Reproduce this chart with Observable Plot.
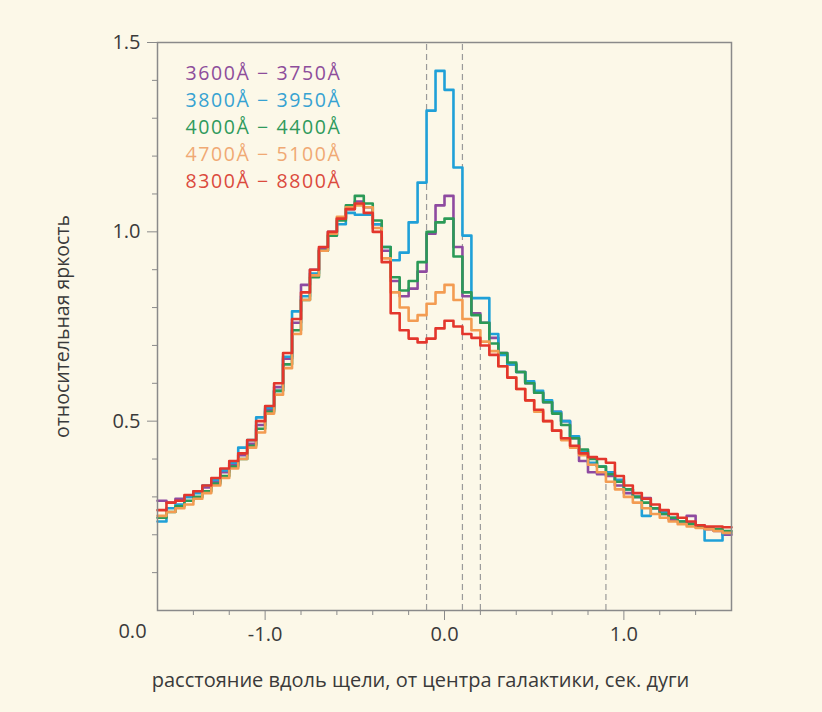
<!DOCTYPE html>
<html><head><meta charset="utf-8">
<script src="https://cdn.jsdelivr.net/npm/d3@7"></script>
<script src="https://cdn.jsdelivr.net/npm/@observablehq/plot@0.6"></script>
<style>
html,body{margin:0;padding:0;background:#fcf8e8;}
#chart{width:822px;height:712px;}
</style></head><body><div id="chart"></div>
<script>
// bins: left edge -1.6, width 0.05 arcsec, 64 bins
const binStart = -1.6, binWidth = 0.05, binEnd = 1.6;

const band3600 = [0.29,0.285,0.295,0.30,0.315,0.325,0.34,0.365,0.385,0.41,0.44,0.49,0.53,0.59,0.665,0.76,0.86,0.90,0.955,1.0,1.035,1.06,1.08,1.065,1.02,0.95,0.87,0.83,0.85,0.895,0.995,1.07,1.095,0.96,0.83,0.785,0.76,0.72,0.68,0.65,0.63,0.60,0.575,0.55,0.525,0.50,0.455,0.395,0.365,0.36,0.355,0.33,0.31,0.30,0.297,0.27,0.255,0.24,0.235,0.25,0.225,0.215,0.21,0.20];
const band3800 = [0.235,0.27,0.28,0.30,0.31,0.33,0.345,0.37,0.39,0.43,0.45,0.51,0.535,0.58,0.67,0.79,0.83,0.89,0.95,0.99,1.02,1.05,1.045,1.045,1.02,0.96,0.925,0.945,1.025,1.13,1.32,1.425,1.375,1.17,0.99,0.825,0.825,0.73,0.675,0.65,0.63,0.605,0.58,0.555,0.525,0.50,0.46,0.42,0.39,0.38,0.365,0.345,0.32,0.30,0.25,0.27,0.26,0.245,0.235,0.23,0.22,0.185,0.185,0.205];
const band4000 = [0.245,0.26,0.275,0.29,0.30,0.315,0.335,0.355,0.38,0.40,0.435,0.48,0.525,0.58,0.65,0.74,0.82,0.88,0.95,0.99,1.03,1.07,1.095,1.075,1.03,0.96,0.88,0.845,0.87,0.92,1.0,1.025,1.035,0.935,0.84,0.78,0.76,0.705,0.68,0.655,0.63,0.60,0.575,0.55,0.52,0.49,0.455,0.425,0.40,0.38,0.36,0.34,0.32,0.30,0.285,0.27,0.255,0.245,0.235,0.228,0.222,0.218,0.215,0.21];
const band4700 = [0.25,0.26,0.27,0.28,0.295,0.31,0.33,0.35,0.375,0.40,0.43,0.47,0.52,0.57,0.64,0.73,0.82,0.885,0.95,0.995,1.04,1.065,1.07,1.065,1.01,0.93,0.84,0.80,0.765,0.78,0.81,0.84,0.86,0.82,0.77,0.74,0.71,0.685,0.645,0.615,0.585,0.555,0.525,0.50,0.475,0.45,0.43,0.41,0.385,0.365,0.34,0.32,0.30,0.285,0.27,0.255,0.245,0.235,0.228,0.222,0.218,0.215,0.21,0.205];
const band8300 = [0.265,0.285,0.29,0.305,0.315,0.33,0.35,0.375,0.395,0.415,0.45,0.50,0.54,0.60,0.68,0.77,0.84,0.90,0.96,1.0,1.035,1.06,1.075,1.05,1.0,0.92,0.785,0.74,0.718,0.708,0.718,0.745,0.765,0.75,0.73,0.72,0.70,0.675,0.645,0.615,0.585,0.555,0.53,0.50,0.475,0.455,0.435,0.415,0.405,0.40,0.39,0.355,0.33,0.31,0.295,0.28,0.265,0.255,0.245,0.235,0.225,0.222,0.222,0.22];

const seriesNames = ["3600Å − 3750Å","3800Å − 3950Å","4000Å − 4400Å","4700Å − 5100Å","8300Å − 8800Å"];
const seriesValues = [band3600, band3800, band4000, band4700, band8300];
const lineColors = ["#8e4aa0","#1fa0d8","#2b9a57","#f39c52","#e3362c"];
const legendColors = ["#8d4d9b","#36a2d2","#2f9a5c","#f0a974","#db4a3d"];

const yMajorTicks = [0.5, 1.0, 1.5];
const yMinorTicks = [0.1,0.2,0.3,0.4,0.6,0.7,0.8,0.9,1.1,1.2,1.3,1.4];
const yZeroLabel = "0.0";
const xMajorTicks = [-1, 0, 1];
const xMinorTicks = [-1.4,-1.2,-0.8,-0.6,-0.4,-0.2,0.2,0.4,0.6,0.8,1.2,1.4];
const markerX = [-0.1, 0.1, 0.2, 0.9];
const markerTop = [1.5, 1.5, 0.7, 0.34];
const xTitle = "расстояние вдоль щели, от центра галактики, сек. дуги";
const yTitle = "относительная яркость";

function stepData(values) {
  const rows = values.map((v, i) => ({x: binStart + i * binWidth, v}));
  rows.push({x: binEnd, v: values[values.length - 1]});
  return rows;
}
const markers = markerX.map((x, i) => ({x, top: markerTop[i]}));

const FONT = "Open Sans";
const TXT = "#3a3a3a";
const marks = [
  Plot.ruleX(markers, {x: "x", y1: 0, y2: "top", stroke: "#9a9a9a", strokeWidth: 1.2, strokeDasharray: "6,4"}),
  ...seriesValues.map((vals, k) => Plot.line(stepData(vals), {x: "x", y: "v", curve: "step-after", stroke: lineColors[k], strokeWidth: 2.6})),
  Plot.frame({stroke: "#8a8a8a", strokeWidth: 1.5}),
  Plot.axisY(yMajorTicks, {tickSize: 10, tickPadding: 7, tickFormat: d => d.toFixed(1), fontSize: 20, stroke: "#8a8a8a", fill: TXT, label: null}),
  Plot.axisY(yMinorTicks, {tickSize: 5, tickFormat: () => "", stroke: "#8a8a8a", label: null}),
  Plot.axisX(xMajorTicks, {tickSize: 10, tickPadding: 6, tickFormat: d => d.toFixed(1), fontSize: 20, stroke: "#8a8a8a", fill: TXT, label: null}),
  Plot.axisX(xMinorTicks, {tickSize: 5, tickFormat: () => "", stroke: "#8a8a8a", label: null}),
  Plot.text([yZeroLabel], {x: binStart, y: 0, text: d => d, dx: -25, dy: 21, fontSize: 20, fill: TXT}),
  Plot.text([xTitle], {frameAnchor: "bottom", text: d => d, dx: -24, dy: 70, lineAnchor: "middle", textAnchor: "middle", fontSize: 20, fill: TXT}),
  Plot.text([yTitle], {frameAnchor: "left", text: d => d, dx: -95, rotate: -90, textAnchor: "middle", lineAnchor: "middle", fontSize: 19.5, fill: TXT}),
  ...seriesNames.map((name, k) => Plot.text([name], {frameAnchor: "top-left", text: d => d, dx: 28, dy: 31 + 27 * k, textAnchor: "start", lineAnchor: "middle", fontSize: 19.5, fill: legendColors[k]}))
];

const chart = Plot.plot({
  width: 822, height: 712,
  marginLeft: 157, marginRight: 91, marginTop: 42, marginBottom: 102,
  style: {background: "#fcf8e8", fontFamily: FONT, color: TXT},
  x: {domain: [-1.6, 1.6]},
  y: {domain: [0, 1.5]},
  marks
});
// widen legend tracking to match the reference's wide lettering
d3.select(chart).selectAll("text").filter(function() { return seriesNames.includes(this.textContent); })
  .style("letter-spacing", "1.6px");
document.getElementById("chart").append(chart);
</script></body></html>
